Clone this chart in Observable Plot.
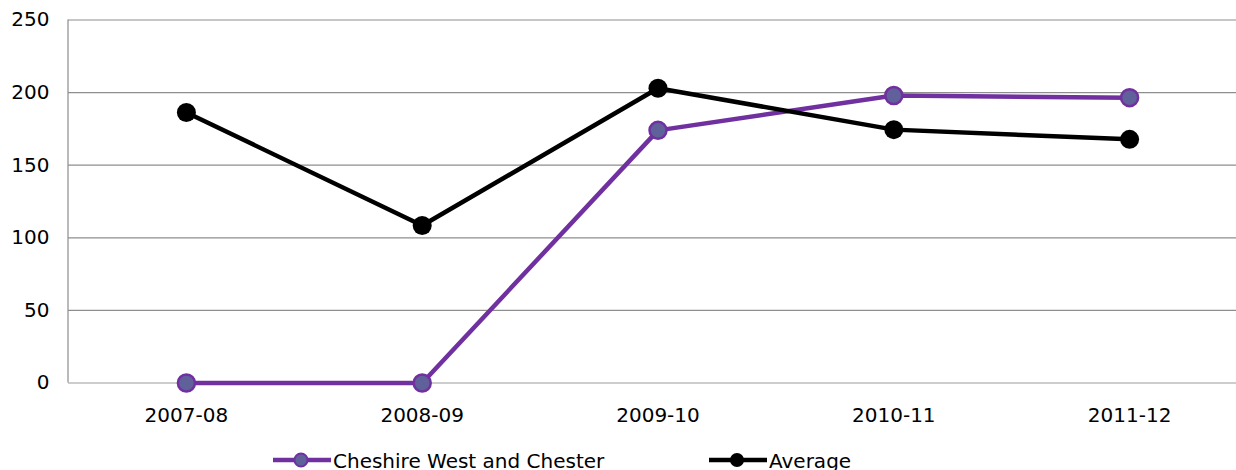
<!DOCTYPE html>
<html><head><meta charset="utf-8">
<script src="https://cdn.jsdelivr.net/npm/d3@7"></script>
<script src="https://cdn.jsdelivr.net/npm/@observablehq/plot@0.6"></script>
<style>
body{margin:0;background:#fff;font-family:"DejaVu Sans",sans-serif;overflow:hidden;}
#chart svg{display:block;}
#legend{position:relative;height:25px;font-size:20px;color:#000;margin-top:3px;}
.item{position:absolute;top:0;display:flex;align-items:center;height:25px;}
.item svg{display:block;}
</style></head><body>
<div id="chart"></div>
<div id="legend"></div>
<script>
const years = ["2007-08","2008-09","2009-10","2010-11","2011-12"];
const cheshire = [0, 0, 174, 198, 196.5];
const average = [186.3, 108.5, 203, 174.5, 167.8];
const yTicks = [0, 50, 100, 150, 200, 250];
const gridTicks = [50, 100, 150, 200, 250];
const seriesNames = ["Cheshire West and Chester", "Average"];

const purple = "#7030A0", dotFill = "#60609A", black = "#000000";

const dataC = years.map((y, i) => ({year: y, value: cheshire[i]}));
const dataA = years.map((y, i) => ({year: y, value: average[i]}));

const chart = Plot.plot({
  width: 1236,
  height: 445,
  marginLeft: 68,
  marginRight: 0,
  marginTop: 19.5,
  marginBottom: 62.5,
  style: {fontFamily: "DejaVu Sans, sans-serif", fontSize: "20px", color: "#000", background: "#fff"},
  x: {type: "point", domain: years, range: [68, 1247], padding: 0.5, round: false, label: null},
  y: {domain: [0, 250], label: null},
  marks: [
    Plot.ruleY(gridTicks, {stroke: "#8E8E8E", strokeWidth: 1.2}),
    Plot.ruleY([0], {stroke: "#BDBDBD", strokeWidth: 1.5}),
    Plot.axisY({ticks: yTicks, tickSize: 0, tickPadding: 19, fontSize: 20, label: null}),
    Plot.axisX({tickSize: 0, tickPadding: 25, fontSize: 20, label: null}),
    Plot.lineY(dataC, {x: "year", y: "value", stroke: purple, strokeWidth: 4.5}),
    Plot.dot(dataC, {x: "year", y: "value", r: 8.5, fill: dotFill, stroke: purple, strokeWidth: 2.5}),
    Plot.lineY(dataA, {x: "year", y: "value", stroke: black, strokeWidth: 4.5}),
    Plot.dot(dataA, {x: "year", y: "value", r: 9.5, fill: black, stroke: "none"})
  ]
});
document.getElementById("chart").appendChild(chart);

// left vertical axis line
const svg = d3.select(chart);
svg.append("line").attr("x1", 68).attr("x2", 68).attr("y1", 19.5).attr("y2", 382.5)
  .attr("stroke", "#8C8C8C").attr("stroke-width", 1.2);

// legend
const legend = document.getElementById("legend");
const items = [
  {name: seriesNames[0], left: 272, stroke: purple, fill: dotFill, r: 6.5, sw: 2},
  {name: seriesNames[1], left: 708, stroke: black, fill: black, r: 7, sw: 0}
];
items.forEach(it => {
  const d = document.createElement("div");
  d.className = "item";
  d.style.left = it.left + "px";
  d.innerHTML = `<svg width="61" height="20"><line x1="1" x2="59" y1="9" y2="9" stroke="${it.stroke}" stroke-width="4.5"/><circle cx="29" cy="9" r="${it.r}" fill="${it.fill}" stroke="${it.stroke}" stroke-width="${it.sw}"/></svg><span>${it.name}</span>`;
  legend.appendChild(d);
});
</script>
</body></html>
